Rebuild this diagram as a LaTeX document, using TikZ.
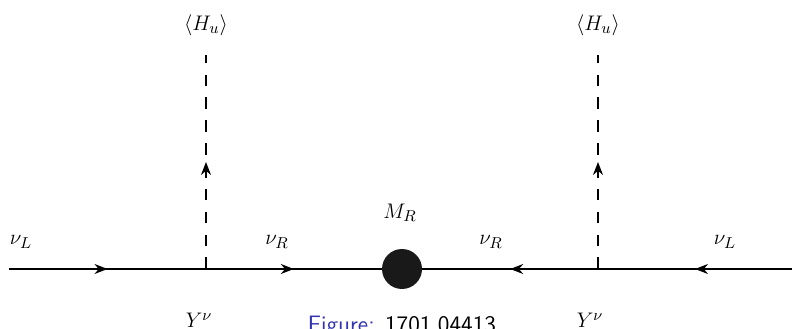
\documentclass[tikz,border=0pt]{standalone}
\usepackage{amsmath}
\usetikzlibrary{arrows.meta,decorations.markings}
\definecolor{capblue}{RGB}{51,51,178}

\begin{document}
\begin{tikzpicture}[
  font=\fontsize{12.5}{15}\selectfont,
  fermion/.style={line width=0.8pt, postaction={decorate},
    decoration={markings, mark=at position 0.5 with {\arrow{Stealth[length=2.6mm,width=2mm]}}}},
  scalar/.style={fermion, dash pattern=on 6.6pt off 6.4pt},
  blob/.style={circle, fill=black!90, minimum size=0.8cm, inner sep=0pt},
  lbl/.style={inner sep=0pt}
]
\useasboundingbox (0,0) rectangle (15.84,6.58);

% Vertices and line ends
\coordinate (leftend) at (0.18,1.2);
\coordinate (rightend) at (15.84,1.2);
\coordinate (yuk1) at (4.12,1.2);
\coordinate (yuk2) at (11.96,1.2);
\coordinate (higgs1) at (4.12,5.48);
\coordinate (higgs2) at (11.96,5.48);

% Majorana mass insertion
\node[blob] (mass) at (8.04,1.2) {};

% Fermion lines, both sides flowing into the mass
\draw[fermion] (leftend) -- (yuk1);
\draw[fermion] (yuk1) -- (mass);
\draw[fermion] (rightend) -- (yuk2);
\draw[fermion] (yuk2) -- (mass);

% Higgs vev legs
\draw[scalar] (yuk1) -- (higgs1);
\draw[scalar] (yuk2) -- (higgs2);

% Labels
\node[lbl] (vevone) at (4.12,6.08) {$\langle H_u\rangle$};
\node[lbl] (vevtwo) at (11.96,6.08) {$\langle H_u\rangle$};
\node[lbl] (nulone) at (0.42,1.74) {$\nu_L$};
\node[lbl] (nurone) at (5.54,1.74) {$\nu_R$};
\node[lbl] (mr) at (8.0,2.32) {$M_R$};
\node[lbl] (nurtwo) at (9.82,1.74) {$\nu_R$};
\node[lbl] (nultwo) at (14.5,1.74) {$\nu_L$};
\node[lbl, anchor=base] (yone) at (3.98,0.02) {$Y^\nu$};
\node[lbl, anchor=base] (ytwo) at (11.8,0.02) {$Y^\nu$};

% Caption, cut by the page edge
\node[lbl, anchor=base, font=\fontsize{13.5}{16}\selectfont\sffamily] (cap) at (8.04,-0.07)
  {\textcolor{capblue}{Figure:} 1701.04413};

\end{tikzpicture}
\end{document}
